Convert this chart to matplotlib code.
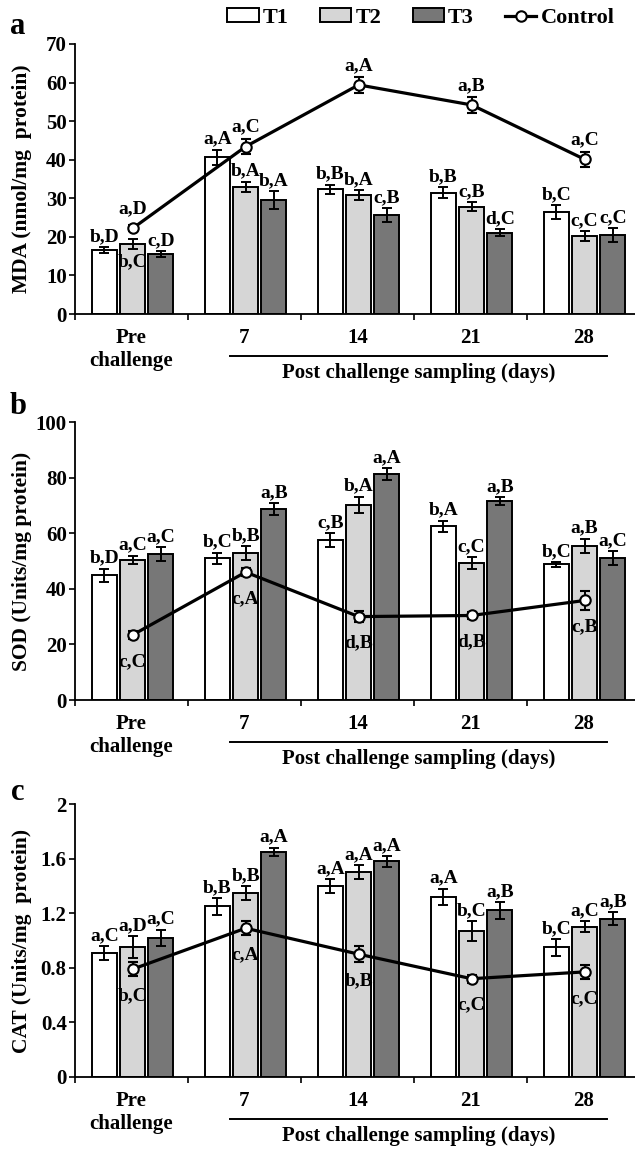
import numpy as np
import matplotlib
matplotlib.use('Agg')
import matplotlib.pyplot as plt
from matplotlib.patches import Patch
from matplotlib.lines import Line2D

plt.rcParams['font.family'] = ['Liberation Serif', 'DejaVu Serif']
plt.rcParams['font.weight'] = 'bold'

groups = ['Pre\nchallenge', '7', '14', '21', '28']
series = ['T1', 'T2', 'T3']
bar_colors = ['white', '#d6d6d6', '#777777']

# MDA (nmol/mg protein)
mda = [[16.6, 40.6, 32.3, 31.4, 26.4],
       [18.1, 33.0, 30.8, 27.8, 20.1],
       [15.5, 29.6, 25.7, 21.1, 20.5]]
mda_err = [[0.7, 2.0, 1.2, 1.4, 1.8],
           [1.3, 1.3, 1.3, 1.2, 1.3],
           [0.8, 2.3, 1.8, 0.9, 1.8]]
mda_ctrl = [22.2, 43.4, 59.4, 54.2, 40.1]
mda_ctrl_err = [0.8, 2.0, 2.0, 2.0, 2.0]
mda_lab = [['b,D', 'a,A', 'b,B', 'b,B', 'b,C'],
           ['b,C', 'b,A', 'b,A', 'c,B', 'c,C'],
           ['c,D', 'b,A', 'c,B', 'd,C', 'c,C']]
mda_ctrl_lab = ['a,D', 'a,C', 'a,A', 'a,B', 'a,C']

# SOD (Units/mg protein)
sod = [[44.8, 51.0, 57.5, 62.5, 48.8],
       [50.4, 52.8, 70.2, 49.3, 55.5],
       [52.6, 68.7, 81.3, 71.6, 51.0]]
sod_err = [[2.5, 2.0, 2.5, 2.0, 0.8],
           [1.5, 2.5, 3.0, 2.2, 2.5],
           [2.5, 2.2, 2.2, 1.3, 2.5]]
sod_ctrl = [23.4, 46.0, 30.0, 30.4, 35.8]
sod_ctrl_err = [1.5, 1.5, 2.0, 1.3, 3.5]
sod_lab = [['b,D', 'b,C', 'c,B', 'b,A', 'b,C'],
           ['a,C', 'b,B', 'b,A', 'c,C', 'a,B'],
           ['a,C', 'a,B', 'a,A', 'a,B', 'a,C']]
sod_ctrl_lab = ['c,C', 'c,A', 'd,B', 'd,B', 'c,B']

# CAT (Units/mg protein)
cat = [[0.91, 1.25, 1.40, 1.32, 0.95],
       [0.95, 1.35, 1.50, 1.07, 1.10],
       [1.02, 1.65, 1.58, 1.22, 1.16]]
cat_err = [[0.05, 0.06, 0.05, 0.06, 0.06],
           [0.08, 0.05, 0.05, 0.07, 0.04],
           [0.06, 0.03, 0.04, 0.06, 0.05]]
cat_ctrl = [0.79, 1.09, 0.90, 0.72, 0.77]
cat_ctrl_err = [0.05, 0.05, 0.06, 0.03, 0.05]
cat_lab = [['a,C', 'b,B', 'a,A', 'a,A', 'b,C'],
           ['a,D', 'b,B', 'a,A', 'b,C', 'a,C'],
           ['a,C', 'a,A', 'a,A', 'a,B', 'a,B']]
cat_ctrl_lab = ['b,C', 'c,A', 'b,B', 'c,C', 'c,C']

W, H = 635, 1149
fig = plt.figure(figsize=(W / 100, H / 100), dpi=100)

offsets = [-0.24, 0.01, 0.26]
bw = 0.22
x = np.arange(len(groups))


def panel(top_px, bot_px, vals, errs, labs, ctrl, ctrl_err, ctrl_lab, ctrl_above,
          ymax, yticks, yticklabels, ylabel, letter, letter_y, below=None):
    ax = fig.add_axes([75 / W, 1 - bot_px / H, (W - 75) / W, (bot_px - top_px) / H])
    for k in range(3):
        ax.bar(x + offsets[k], vals[k], bw, color=bar_colors[k], edgecolor='black',
               linewidth=1.4, zorder=2)
        ax.errorbar(x + offsets[k], vals[k], yerr=errs[k], fmt='none', ecolor='black',
                    elinewidth=1.4, capsize=3.5, capthick=1.4, zorder=3)
        for i in range(len(groups)):
            if below is not None and (k, i) in below:
                ax.annotate(labs[k][i], (x[i] + offsets[k], vals[k][i] - errs[k][i]),
                            xytext=(0, -3), textcoords='offset points',
                            ha='center', va='top', fontsize=14, zorder=5)
            else:
                ax.annotate(labs[k][i], (x[i] + offsets[k], vals[k][i] + errs[k][i]),
                            xytext=(0, 1.5), textcoords='offset points',
                            ha='center', va='bottom', fontsize=14, zorder=5)
    ax.errorbar(x + 0.01, ctrl, yerr=ctrl_err, color='black', linewidth=2.3,
                marker='o', markersize=7.5, markerfacecolor='white', markeredgecolor='black',
                markeredgewidth=1.5, elinewidth=1.4, capsize=3.5, capthick=1.4, zorder=4)
    for i in range(len(groups)):
        dy = 14 if ctrl_above else -19
        ax.annotate(ctrl_lab[i], (x[i] + 0.01, ctrl[i]), xytext=(0, dy),
                    textcoords='offset points', ha='center', va='center',
                    fontsize=14, zorder=5)

    ax.set_xlim(-0.5, -0.5 + (W - 75) / 113)
    ax.set_ylim(0, ymax)
    ax.set_yticks(yticks)
    ax.set_yticklabels(yticklabels)
    ax.set_xticks(x)
    ax.set_xticklabels(groups)
    ax.set_xticks(np.arange(-0.5, 4.0, 1.0), minor=True)
    ax.tick_params(axis='x', which='major', length=0, pad=10, labelsize=15)
    ax.tick_params(axis='x', which='minor', length=4, width=1.2, direction='out')
    ax.tick_params(axis='y', length=4, width=1.2, direction='out', labelsize=15, pad=2)
    for s in ['top', 'right']:
        ax.spines[s].set_visible(False)
    for s in ['left', 'bottom']:
        ax.spines[s].set_linewidth(1.3)

    ax_h = bot_px - top_px
    ax.plot([0.87, 4.21], [-42 / ax_h] * 2, color='black', linewidth=1.4,
            transform=ax.get_xaxis_transform(), clip_on=False)
    ax.text(2.54, -59 / ax_h, 'Post challenge sampling (days)', ha='center', va='center',
            fontsize=15, transform=ax.get_xaxis_transform())

    fig.text(22 / W, 1 - (top_px + bot_px) / 2 / H, ylabel, rotation=90,
             ha='center', va='center', fontsize=15.5)
    fig.text(18 / W, 1 - letter_y / H, letter, ha='center', va='center', fontsize=22)
    return ax


panel(44, 314, mda, mda_err, mda_lab, mda_ctrl, mda_ctrl_err, mda_ctrl_lab, True,
      70, np.arange(0, 71, 10), [str(v) for v in range(0, 71, 10)],
      'MDA (nmol/mg  protein)', 'a', 26, below={(1, 0)})
panel(422, 700, sod, sod_err, sod_lab, sod_ctrl, sod_ctrl_err, sod_ctrl_lab, False,
      100, np.arange(0, 101, 20), [str(v) for v in range(0, 101, 20)],
      'SOD (Units/mg protein)', 'b', 407)
panel(804, 1077, cat, cat_err, cat_lab, cat_ctrl, cat_ctrl_err, cat_ctrl_lab, False,
      2, [0, 0.4, 0.8, 1.2, 1.6, 2.0], ['0', '0.4', '0.8', '1.2', '1.6', '2'],
      'CAT (Units/mg  protein)', 'c', 793)

handles = [Patch(facecolor=c, edgecolor='black', linewidth=1.4) for c in bar_colors]
handles.append(Line2D([], [], color='black', linewidth=2.3, marker='o', markersize=7.5,
                      markerfacecolor='white', markeredgecolor='black', markeredgewidth=1.5))
fig.legend(handles, series + ['Control'], loc='center', ncol=4,
           bbox_to_anchor=(421 / W, 1 - 18 / H), frameon=False, fontsize=16,
           handlelength=1.4, handleheight=0.55, handletextpad=0.2, columnspacing=1.4,
           borderpad=0.2)

fig.savefig('out.png', dpi=100)
